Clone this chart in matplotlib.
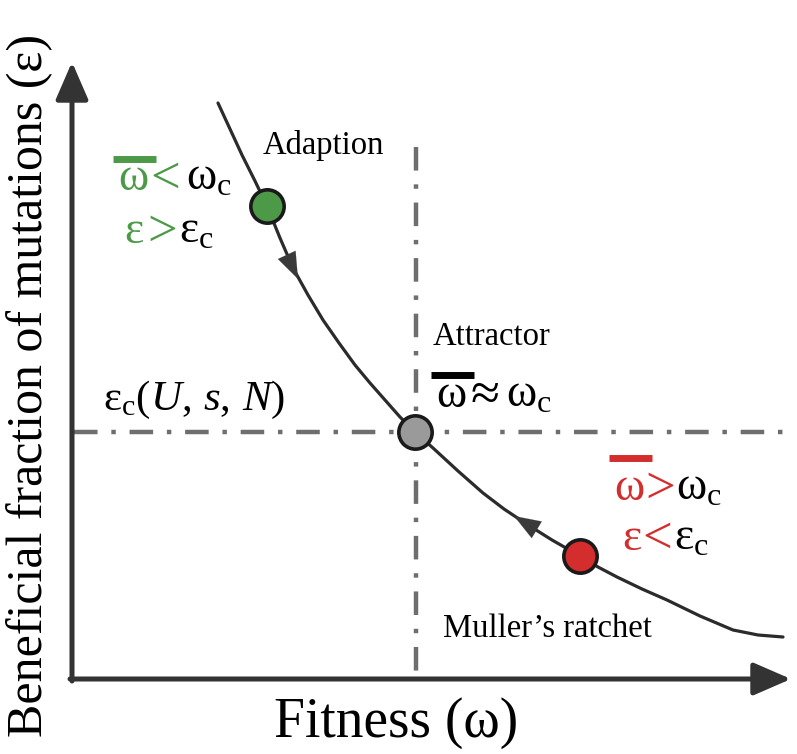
import numpy as np
import matplotlib
matplotlib.use('Agg')
import matplotlib.pyplot as plt

plt.rcParams['font.family'] = ['Liberation Serif', 'DejaVu Serif']
plt.rcParams['mathtext.fontset'] = 'custom'
plt.rcParams['mathtext.rm'] = 'Liberation Serif'
plt.rcParams['mathtext.it'] = 'Liberation Serif:italic'
plt.rcParams['mathtext.default'] = 'regular'

# --- data (figure pixel units, y grows downward) ---
curve_x = [218, 230, 242, 255, 267, 280, 293, 308, 323, 339, 355, 370, 385, 400, 415,
           433, 458, 483, 504, 525, 552, 580, 598, 617, 642, 667, 700, 733, 758, 783]
curve_y = [103, 129, 155, 181, 206, 238, 268, 295, 320, 343, 365, 383, 400, 417, 432,
           448, 471, 493, 509, 523, 540, 556, 567, 577, 589, 600, 616, 630, 635, 637]

omega_c = 416
eps_c = 432

dot_x = [267, 415, 580]
dot_y = [206, 432, 556]
dot_colors = ['#4c9a48', '#9a9a9a', '#d42d2d']

GREEN = '#4c9a48'
RED = '#d42d2d'
AXC = '#333333'
DASHC = '#6e6e6e'
MATH_FS = 33
SYM_FS = 38

fig = plt.figure(figsize=(7.97, 7.54), dpi=100)
ax = fig.add_axes([0, 0, 1, 1])
ax.set_xlim(0, 797)
ax.set_ylim(754, 0)
ax.axis('off')

# axes with arrow heads
head = '-|>,head_width=1.0,head_length=2.3'
ax.annotate('', xy=(72, 62), xytext=(72, 681),
            arrowprops=dict(arrowstyle=head, lw=3.6, color=AXC, shrinkA=0, shrinkB=0))
ax.annotate('', xy=(791, 679), xytext=(70, 679),
            arrowprops=dict(arrowstyle=head, lw=3.6, color=AXC, shrinkA=0, shrinkB=0))

# critical lines
ax.plot([omega_c, omega_c], [147, 677], color=DASHC, lw=3.2, dashes=(5.3, 3.1, 1.0, 3.1), zorder=1)
ax.plot([74, 785], [eps_c, eps_c], color=DASHC, lw=3.2, dashes=(5.3, 3.1, 1.0, 3.1), zorder=1)

# curve
ax.plot(curve_x, curve_y, color='#2b2b2b', lw=2.3, zorder=2,
        solid_capstyle='round', solid_joinstyle='round')

# direction arrows on curve
small = '-|>,head_width=0.7,head_length=1.9'
ax.annotate('', xy=(298, 279), xytext=(284, 249),
            arrowprops=dict(arrowstyle=small, lw=0.1, color='#3a3a3a', shrinkA=0, shrinkB=0))
ax.annotate('', xy=(514, 516), xytext=(542, 533),
            arrowprops=dict(arrowstyle=small, lw=0.1, color='#3a3a3a', shrinkA=0, shrinkB=0))

# dots
for x, y, c in zip(dot_x, dot_y, dot_colors):
    ax.plot(x, y, 'o', ms=24, mfc=c, mec='#1a1a1a', mew=2.6, zorder=5)

# axis labels
ax.text(396, 737, 'Fitness (ω)', fontsize=40, ha='center', va='baseline')
ax.text(30, 385, 'Beneficial fraction of mutations (ε)', fontsize=36,
        ha='center', va='center', rotation=90)

# region labels
ax.text(263, 154, 'Adaption', fontsize=23.5, ha='left', va='baseline')
ax.text(433, 345, 'Attractor', fontsize=23.5, ha='left', va='baseline')
ax.text(443, 637, 'Muller’s ratchet', fontsize=23.5, ha='left', va='baseline')


def relation(x0, x1, x2, y, sym, left, col, bar_y=None):
    ax.text(x0, y, left, fontsize=MATH_FS, color=col, ha='left', va='baseline')
    ax.text(x1, y + 3, sym, fontsize=SYM_FS, color=col, ha='left', va='baseline')
    ax.text(x2, y, r'$%s_{c}$' % left, fontsize=MATH_FS, color='black',
            ha='left', va='baseline')
    if bar_y is not None:
        ax.plot([x0 - 5, x0 + 38], [bar_y, bar_y], color=col, lw=5, solid_capstyle='butt')


# green (adaption)
relation(118, 150, 186, 190, '<', 'ω', GREEN, bar_y=159)
relation(124, 147, 179, 243, '>', 'ε', GREEN)

# attractor
relation(436, 471, 506, 407, '≈', 'ω', 'black', bar_y=375)

# red (Muller's ratchet)
relation(614, 645, 676, 500, '>', 'ω', RED, bar_y=458)
relation(622, 642, 674, 550, '<', 'ε', RED)

# eps_c label
ax.text(103, 410, r'$ε_{c}(\mathit{U},\,\mathit{s},\,\mathit{N})$', fontsize=31,
        color='black', ha='left', va='baseline')

fig.savefig('out.png', dpi=100)
